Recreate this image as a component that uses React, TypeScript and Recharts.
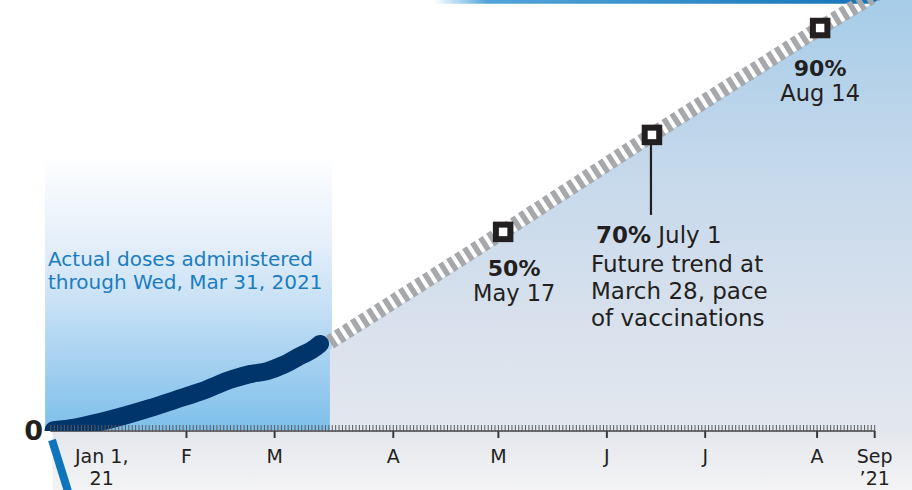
import React from "react";
import {
  ComposedChart,
  Line,
  Area,
  Scatter,
  XAxis,
  YAxis,
  ReferenceArea,
  ReferenceLine,
  ReferenceDot,
} from "recharts";

// x unit: timeline position of the illustration (≈ days, axis is hand-drawn)
// y unit: share of the illustrated vaccination scale (0 at the axis)

// Actual doses administered (dark navy line)
const actualDays = [0.8, 7.1, 14.5, 21.9, 29.2, 36.6, 44.0, 53.7, 58.7, 63.8, 68.5, 73.5, 77.0, 79.4];
const actualValues = [0.2, 0.8, 2.1, 3.6, 5.3, 7.2, 9.1, 12.1, 13.2, 13.9, 15.3, 17.4, 18.8, 20.2];

// Projected trend (striped line)
const projDays = [82.3, 133.4, 177.3, 226.9, 246.0, 254];
const projValues = [20.6, 46.2, 68.7, 93.5, 102.6, 106.5];

// Lower edge of the striped line = top of the filled projection area
const fillDays = [82.3, 133.4, 177.3, 226.9, 254];
const fillValues = [18.9, 44.5, 67.0, 91.8, 104.8];

// Milestones
const milestoneDays = [133.4, 177.3, 226.9];
const milestoneValues = [46.2, 68.7, 93.5];
const milestonePct = ["50%", "70%", "90%"];
const milestoneDates = ["May 17", "July 1", "Aug 14"];
const trendNote = ["Future trend at", "March 28, pace", "of vaccinations"];

// Axis
const axisStart = 0;
const axisEnd = 243;
const axisLabelDays = [15, 40, 66, 101, 132, 164, 193, 226, 243];
const axisLabelLine1 = ["Jan 1,", "F", "M", "A", "M", "J", "J", "A", "Sep"];
const axisLabelLine2 = ["21", "", "", "", "", "", "", "", "\u201921"];
const majorTickDays = [40, 66, 101, 132, 164, 193, 226, 243];
const rulerTicks = Array.from({ length: axisEnd - axisStart + 1 }, (_, i) => axisStart + i);

// Highlight box (actual period) and decorative strokes
const actualBoxDays = [-1.7, 82.9];
const actualBoxTop = 64;
const actualNote = ["Actual doses administered", "through Wed, Mar 31, 2021"];
const actualNoteAt = { d: -0.84, v: 38.3 };
const zeroLabelAt = { d: -5.1, v: 0 };
const topBandDays = [112.7, 245.5];
const topBandValues = [99.15, 100];
const cornerStroke = [
  { x: 0.34, y: -2.1 },
  { x: 5.06, y: -14.0 },
];

const actualData = actualDays.map((d, i) => ({ d, v: actualValues[i] }));
const projData = projDays.map((d, i) => ({ d, v: projValues[i] }));
const fillData = fillDays.map((d, i) => ({ d, v: fillValues[i] }));
const milestoneData = milestoneDays.map((d, i) => ({ d, v: milestoneValues[i], i }));

const FONT = '"DejaVu Sans", sans-serif';
const INK = "#231f20";

const RulerTick = (props: any) => {
  const { x, y, payload } = props;
  const v = payload.value;
  const li = axisLabelDays.indexOf(v);
  const major = majorTickDays.indexOf(v) >= 0;
  return (
    <g>
      <line x1={x} x2={x} y1={y - 6} y2={y + 1} stroke="#5a5b5d" strokeWidth={1} />
      {major && <line x1={x} x2={x} y1={y} y2={y + 7} stroke="#3a3a3c" strokeWidth={2} />}
      {li >= 0 && (
        <text x={x} y={y + 32} textAnchor="middle" fontFamily={FONT} fontSize={19} fill={INK}>
          {axisLabelLine1[li]}
        </text>
      )}
      {li >= 0 && axisLabelLine2[li] && (
        <text x={x} y={y + 54} textAnchor="middle" fontFamily={FONT} fontSize={19} fill={INK}>
          {axisLabelLine2[li]}
        </text>
      )}
    </g>
  );
};

const MilestoneShape = (props: any) => {
  const { cx, cy, payload } = props;
  const i = payload.i;
  const s = 14.5;
  const square = (
    <rect x={cx - s / 2} y={cy - s / 2} width={s} height={s} fill="#ffffff" stroke={INK} strokeWidth={6} />
  );
  if (i === 1) {
    return (
      <g>
        <line x1={cx - 1} x2={cx - 1} y1={cy + 9} y2={cy + 80} stroke={INK} strokeWidth={2.2} />
        {square}
        <text x={cx - 56} y={cy + 108} fontFamily={FONT} fontSize={23} fill={INK}>
          <tspan fontWeight="bold">{milestonePct[i]}</tspan>
          <tspan> {milestoneDates[i]}</tspan>
        </text>
        {trendNote.map((t, k) => (
          <text key={k} x={cx - 61} y={cy + 137 + k * 27} fontFamily={FONT} fontSize={23} fill={INK}>
            {t}
          </text>
        ))}
      </g>
    );
  }
  const dx = i === 0 ? 11 : 0;
  const dy = i === 0 ? 44 : 48;
  return (
    <g>
      {square}
      <text x={cx + dx} y={cy + dy} textAnchor="middle" fontFamily={FONT} fontSize={22} fontWeight="bold" fill={INK}>
        {milestonePct[i]}
      </text>
      <text x={cx + dx} y={cy + dy + 25} textAnchor="middle" fontFamily={FONT} fontSize={22.5} fill={INK}>
        {milestoneDates[i]}
      </text>
    </g>
  );
};

export default function App() {
  return (
    <div style={{ position: "absolute", left: 0, top: 0, width: 912, height: 490, background: "#ffffff" }}>
      <ComposedChart width={912} height={490} margin={{ top: 0, right: 0, bottom: 0, left: 0 }}>
        <defs>
          <linearGradient id="projFill" x1="0" y1="0" x2="0" y2="1">
            <stop offset="0" stopColor="#a3cbe8" />
            <stop offset="0.4" stopColor="#c4d8eb" />
            <stop offset="0.75" stopColor="#d8e1ed" />
            <stop offset="1" stopColor="#e3e7ee" />
          </linearGradient>
          <linearGradient id="actualBox" x1="0" y1="0" x2="0" y2="1">
            <stop offset="0" stopColor="#ffffff" />
            <stop offset="0.33" stopColor="#e3eef9" />
            <stop offset="0.55" stopColor="#c5e0f5" />
            <stop offset="0.8" stopColor="#9dcdef" />
            <stop offset="1" stopColor="#7cbfea" />
          </linearGradient>
          <linearGradient id="stripFill" x1="0" y1="0" x2="0" y2="1">
            <stop offset="0" stopColor="#e4e7ed" />
            <stop offset="1" stopColor="#f4f4f5" />
          </linearGradient>
          <linearGradient id="topBlue" x1="0" y1="0" x2="1" y2="0">
            <stop offset="0" stopColor="#4aa5dc" stopOpacity={0} />
            <stop offset="0.12" stopColor="#3d9bd6" stopOpacity={0.9} />
            <stop offset="1" stopColor="#1472b8" stopOpacity={1} />
          </linearGradient>
        </defs>

        <XAxis
          type="number"
          dataKey="d"
          domain={[-15, 254]}
          allowDataOverflow
          ticks={rulerTicks}
          interval={0}
          tick={<RulerTick />}
          tickLine={false}
          axisLine={false}
          tickSize={0}
          tickMargin={0}
          height={59}
          zIndex={200}
        />
        <YAxis hide type="number" domain={[0, 100]} allowDataOverflow />

        <ReferenceArea
          x1={actualBoxDays[0]}
          x2={actualBoxDays[1]}
          y1={0}
          y2={actualBoxTop}
          fill="url(#actualBox)"
          fillOpacity={1}
          stroke="none"
          ifOverflow="visible"
          zIndex={50}
        />
        <ReferenceArea
          x1={0.5}
          x2={254}
          y1={-14.3}
          y2={0}
          fill="url(#stripFill)"
          fillOpacity={1}
          stroke="none"
          ifOverflow="visible"
          zIndex={50}
        />
        <ReferenceArea
          x1={topBandDays[0]}
          x2={topBandDays[1]}
          y1={topBandValues[0]}
          y2={topBandValues[1]}
          fill="url(#topBlue)"
          fillOpacity={1}
          stroke="none"
          ifOverflow="visible"
          zIndex={60}
        />

        <Area
          data={fillData}
          dataKey="v"
          type="linear"
          stroke="none"
          fill="url(#projFill)"
          fillOpacity={1}
          isAnimationActive={false}
          dot={false}
          activeDot={false}
          zIndex={100}
        />

        <ReferenceLine
          segment={[
            { x: axisStart, y: 0 },
            { x: axisEnd, y: 0 },
          ]}
          stroke="#6d6e71"
          strokeWidth={2}
          ifOverflow="visible"
          zIndex={210}
        />
        <ReferenceLine
          segment={cornerStroke}
          stroke="#0e74bb"
          strokeWidth={8}
          ifOverflow="visible"
          zIndex={220}
        />

        <Line
          data={projData}
          dataKey="v"
          type="linear"
          stroke="#a6a8ab"
          strokeWidth={15}
          strokeDasharray="5.5 4"
          dot={false}
          activeDot={false}
          isAnimationActive={false}
          zIndex={300}
        />
        <Line
          data={actualData}
          dataKey="v"
          type="monotone"
          stroke="#00356b"
          strokeWidth={18}
          strokeLinecap="round"
          strokeLinejoin="round"
          dot={false}
          activeDot={false}
          isAnimationActive={false}
          zIndex={400}
        />

        <Scatter
          data={milestoneData}
          dataKey="v"
          shape={<MilestoneShape />}
          isAnimationActive={false}
          zIndex={600}
        />

        <ReferenceDot
          x={zeroLabelAt.d}
          y={zeroLabelAt.v}
          r={0}
          ifOverflow="visible"
          zIndex={700}
          shape={(p: any) => (
            <text x={p.cx} y={p.cy + 9} textAnchor="middle" fontFamily={FONT} fontSize={27} fontWeight="bold" fill={INK}>
              0
            </text>
          )}
        />
        <ReferenceDot
          x={actualNoteAt.d}
          y={actualNoteAt.v}
          r={0}
          ifOverflow="visible"
          zIndex={700}
          shape={(p: any) => (
            <g>
              {actualNote.map((t, k) => (
                <text key={k} x={p.cx} y={p.cy + k * 23.5} fontFamily={FONT} fontSize={20} fill="#1b7dc0">
                  {t}
                </text>
              ))}
            </g>
          )}
        />
      </ComposedChart>
    </div>
  );
}
